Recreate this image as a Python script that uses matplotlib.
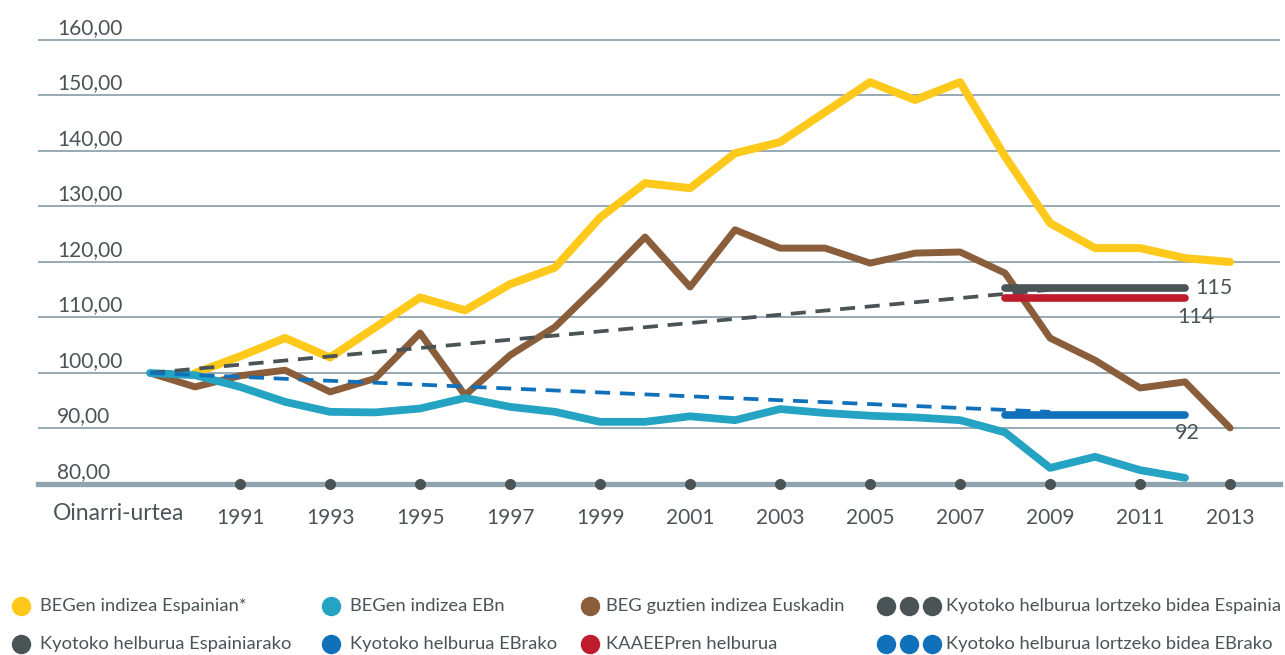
import matplotlib
matplotlib.use("Agg")
import matplotlib.pyplot as plt
import matplotlib.transforms as mtransforms
import numpy as np
from matplotlib.lines import Line2D

plt.rcParams['font.family'] = ['Lato', 'DejaVu Sans']

# x index: 0 = base year, 1 = 1990, ..., 24 = 2013
years = ['Oinarri-urtea'] + [str(y) for y in range(1990, 2014)]
idx = np.arange(len(years))

spain = [np.nan, 100, 103, 106.3, 102.8, 108.2, 113.6, 111.3, 116, 119, 128, 134.2,
         133.3, 139.6, 141.6, 147, 152.4, 149.2, 152.4, 139, 127, 122.5, 122.5, 120.7, 120.0]
eu = [100, 99.6, 97.5, 94.8, 93, 92.9, 93.6, 95.5, 93.9, 93.0, 91.2, 91.2,
      92.2, 91.5, 93.5, 92.8, 92.3, 92, 91.5, 89.3, 82.9, 84.9, 82.5, 81.1, np.nan]
basque = [100, 97.5, 99.5, 100.5, 96.6, 99, 107.2, 96, 103.2, 108.3, 116.2, 124.5,
          115.5, 125.8, 122.5, 122.5, 119.8, 121.6, 121.8, 118, 106.3, 102.3, 97.3, 98.4, 90.1]

# Kyoto paths (base year -> 2009)
path_x = [0, 20]
path_spain = [100, 115]
path_eu = [100, 93]

# targets 2008-2012
target_x = [19, 23]
target_spain = 115.3
target_kaaeep = 113.5
target_eu = 92.4
target_labels = ['115', '114', '92']

legend_labels = [
    ['BEGen indizea Espainian*', 'BEGen indizea EBn', 'BEG guztien indizea Euskadin',
     'Kyotoko helburua lortzeko bidea Espainia'],
    ['Kyotoko helburua Espainiarako', 'Kyotoko helburua EBrako', 'KAAEEPren helburua',
     'Kyotoko helburua lortzeko bidea EBrako'],
]

YELLOW = '#fec91b'
TEAL = '#25a3c2'
BROWN = '#8a5d3b'
GREY = '#4a5456'
BLUE = '#1071ba'
RED = '#bd1d2c'
GRID = '#8fa4ae'

W, H = 1285, 655
fig = plt.figure(figsize=(W / 100, H / 100), dpi=100)
ax = fig.add_axes([38 / W, 1 - 484 / H, (1280 - 38) / W, (484 - 30) / H])
ax.set_xlim(-2.49, 25.11)
ax.set_ylim(80, 161.8)
for s in ax.spines.values():
    s.set_visible(False)

# grid and y labels
for v in np.arange(90, 161, 10):
    ax.axhline(v, color=GRID, lw=1.3, zorder=1)
ax.axhline(80, color=GRID, lw=3.8, zorder=1, clip_on=False)
for v in np.arange(80, 161, 10):
    ax.text(0.0153, v + 1.1, f'{v:.2f}'.replace('.', ','), transform=ax.get_yaxis_transform(),
            ha='left', va='baseline', fontsize=15, color=GREY)
ax.set_yticks([])

# x axis: odd years + base year label
odd = [i for i, y in enumerate(years) if y.isdigit() and int(y) % 2 == 1]
ax.set_xticks(odd)
ax.set_xticklabels([years[i] for i in odd], fontsize=15, color=GREY)
ax.tick_params(axis='x', length=0, pad=17.5)
off = mtransforms.ScaledTranslation(0, -14 / 72, fig.dpi_scale_trans)
ax.text(-0.69, 80, years[0], ha='center', va='top', fontsize=16.5, color=GREY,
        transform=ax.transData + off, clip_on=False)
ax.scatter(odd, [80] * len(odd), s=64, color=GREY, zorder=6, clip_on=False, linewidths=0)

# series
kw = dict(solid_capstyle='round', solid_joinstyle='round')
ax.plot(idx, spain, color=YELLOW, lw=5.8, zorder=2, **kw)
ax.plot(idx, basque, color=BROWN, lw=5.0, zorder=3, **kw)
ax.plot(idx, eu, color=TEAL, lw=5.6, zorder=3, **kw)
ax.plot(path_x, path_spain, color=GREY, lw=2.7, dashes=(4, 2.6), zorder=4)
ax.plot(path_x, path_eu, color=BLUE, lw=2.7, dashes=(4, 2.6), zorder=4)
for val, col in [(target_spain, GREY), (target_kaaeep, RED), (target_eu, BLUE)]:
    ax.plot(target_x, [val, val], color=col, lw=5.5, zorder=5, solid_capstyle='round')

ax.text(target_x[1] + 0.22, target_spain, target_labels[0], fontsize=15.5, color=GREY,
        ha='left', va='center')
ax.text(target_x[1] - 0.18, target_kaaeep - 3.4, target_labels[1], fontsize=15.5, color=GREY,
        ha='left', va='center')
ax.text(target_x[1] - 0.22, target_eu - 3.2, target_labels[2], fontsize=15.5, color=GREY,
        ha='left', va='center')

# legend
row_y = [606, 644]
mark_x = [21, 331, 590, 886]
text_x = [40, 350, 606, 946]
colors = [[YELLOW, TEAL, BROWN, GREY], [GREY, BLUE, RED, BLUE]]
for r in range(2):
    for c in range(4):
        fy = 1 - row_y[r] / H
        xs = [mark_x[c]] if c < 3 else [mark_x[c], mark_x[c] + 23, mark_x[c] + 46]
        for mx in xs:
            fig.add_artist(Line2D([mx / W], [fy], marker='o', markersize=14, color=colors[r][c],
                                  markeredgewidth=0, transform=fig.transFigure))
        fig.text(text_x[c] / W, fy, legend_labels[r][c], fontsize=13.2, color=GREY,
                 ha='left', va='center')

fig.savefig('out.png', dpi=100)
